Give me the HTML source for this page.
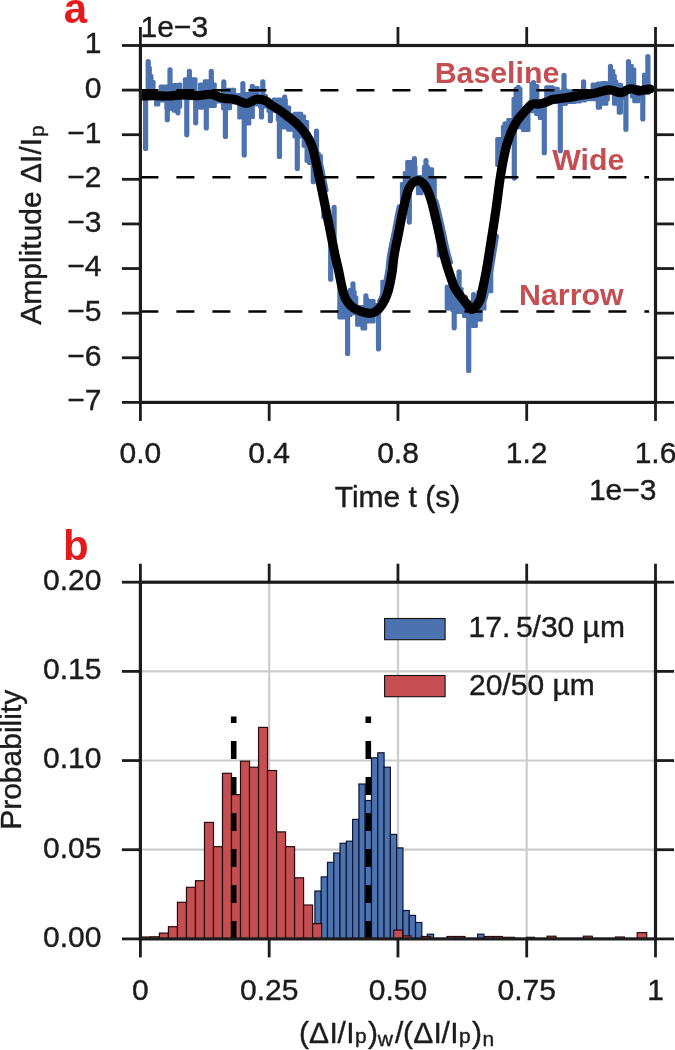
<!DOCTYPE html>
<html><head><meta charset="utf-8"><style>
html,body{margin:0;padding:0;background:#fff;width:675px;height:1050px;overflow:hidden}
svg{display:block;filter:blur(0.35px)}
</style></head><body>
<svg width="675" height="1050" viewBox="0 0 675 1050">
<rect x="0" y="0" width="675" height="1050" fill="#ffffff"/>
<defs><clipPath id="ca"><rect x="140.4" y="45.5" width="515.1" height="356.9"/></clipPath></defs>
<g clip-path="url(#ca)">
<g fill="#4C72B0">
<rect x="139.8" y="90.0" width="6.0" height="10.0" rx="1.5"/>
<rect x="147.7" y="66.0" width="4.2" height="33.0" rx="1.5"/>
<rect x="150.3" y="74.0" width="3.2" height="25.0" rx="1.5"/>
<rect x="151.9" y="80.0" width="3.7" height="19.0" rx="1.5"/>
<rect x="154.0" y="94.0" width="6.3" height="12.5" rx="1.5"/>
<rect x="158.7" y="84.6" width="7.3" height="17.8" rx="1.5"/>
<rect x="164.4" y="84.6" width="5.8" height="25.4" rx="1.5"/>
<rect x="168.6" y="84.5" width="4.8" height="26.2" rx="1.5"/>
<rect x="171.8" y="83.0" width="7.0" height="29.8" rx="1.5"/>
<rect x="177.2" y="82.5" width="5.1" height="26.1" rx="1.5"/>
<rect x="180.7" y="93.0" width="3.7" height="6.0" rx="1.5"/>
<rect x="182.8" y="77.2" width="9.5" height="23.1" rx="1.5"/>
<rect x="190.7" y="77.2" width="6.8" height="23.1" rx="1.5"/>
<rect x="195.9" y="93.0" width="3.7" height="7.0" rx="1.5"/>
<rect x="198.0" y="82.5" width="6.3" height="27.2" rx="1.5"/>
<rect x="202.7" y="79.3" width="6.8" height="29.3" rx="1.5"/>
<rect x="207.9" y="79.3" width="6.3" height="28.8" rx="1.5"/>
<rect x="212.6" y="82.5" width="4.2" height="25.6" rx="1.5"/>
<rect x="215.2" y="93.0" width="7.4" height="10.4" rx="1.5"/>
<rect x="221.0" y="87.7" width="6.3" height="22.5" rx="1.5"/>
<rect x="225.7" y="87.7" width="6.3" height="22.5" rx="1.5"/>
<rect x="230.4" y="87.7" width="5.8" height="16.8" rx="1.5"/>
<rect x="234.6" y="93.0" width="4.2" height="11.5" rx="1.5"/>
<rect x="237.2" y="93.0" width="4.7" height="26.6" rx="1.5"/>
<rect x="240.3" y="91.9" width="6.3" height="27.2" rx="1.5"/>
<rect x="245.0" y="91.9" width="6.3" height="33.5" rx="1.5"/>
<rect x="249.7" y="84.0" width="5.2" height="35.1" rx="1.5"/>
<rect x="253.3" y="86.1" width="6.3" height="20.4" rx="1.5"/>
<rect x="258.0" y="95.0" width="6.4" height="13.6" rx="1.5"/>
<rect x="262.8" y="94.0" width="5.2" height="14.6" rx="1.5"/>
<rect x="266.4" y="100.3" width="6.9" height="12.5" rx="1.5"/>
<rect x="271.7" y="97.6" width="5.7" height="15.2" rx="1.5"/>
<rect x="275.8" y="97.6" width="6.9" height="23.8" rx="1.5"/>
<rect x="281.1" y="98.6" width="6.7" height="30.8" rx="1.5"/>
<rect x="286.2" y="105.4" width="5.0" height="26.3" rx="1.5"/>
<rect x="289.6" y="113.0" width="4.5" height="18.7" rx="1.5"/>
<rect x="292.5" y="111.7" width="10.7" height="26.9" rx="1.5"/>
<rect x="301.6" y="114.6" width="4.5" height="33.1" rx="1.5"/>
<rect x="304.5" y="120.0" width="4.7" height="42.8" rx="1.5"/>
<rect x="307.6" y="140.0" width="5.9" height="24.9" rx="1.5"/>
<rect x="318.8" y="154.0" width="4.1" height="21.0" rx="1.5"/>
<rect x="321.3" y="200.0" width="4.2" height="19.0" rx="1.5"/>
<rect x="337.3" y="285.0" width="4.8" height="34.5" rx="1.5"/>
<rect x="340.5" y="294.0" width="5.3" height="25.5" rx="1.5"/>
<rect x="344.2" y="292.0" width="5.2" height="27.5" rx="1.5"/>
<rect x="347.8" y="288.0" width="4.8" height="29.0" rx="1.5"/>
<rect x="351.0" y="290.0" width="5.7" height="25.3" rx="1.5"/>
<rect x="355.1" y="295.4" width="3.2" height="31.4" rx="1.5"/>
<rect x="356.7" y="305.0" width="5.3" height="21.8" rx="1.5"/>
<rect x="360.4" y="305.0" width="6.8" height="25.4" rx="1.5"/>
<rect x="365.6" y="297.5" width="3.7" height="26.1" rx="1.5"/>
<rect x="367.7" y="299.0" width="7.9" height="24.6" rx="1.5"/>
<rect x="374.0" y="303.0" width="7.9" height="9.0" rx="1.5"/>
<rect x="380.3" y="279.7" width="4.7" height="25.3" rx="1.5"/>
<rect x="386.6" y="280.0" width="5.7" height="14.3" rx="1.5"/>
<rect x="399.9" y="182.0" width="4.4" height="23.0" rx="1.5"/>
<rect x="402.7" y="171.0" width="4.1" height="29.0" rx="1.5"/>
<rect x="405.2" y="160.0" width="7.6" height="30.0" rx="1.5"/>
<rect x="411.2" y="165.0" width="6.3" height="21.0" rx="1.5"/>
<rect x="415.9" y="175.0" width="7.6" height="20.3" rx="1.5"/>
<rect x="421.9" y="165.0" width="8.2" height="25.0" rx="1.5"/>
<rect x="428.5" y="167.3" width="5.6" height="27.7" rx="1.5"/>
<rect x="432.5" y="176.7" width="4.3" height="28.3" rx="1.5"/>
<rect x="436.7" y="245.0" width="4.7" height="12.4" rx="1.5"/>
<rect x="444.7" y="284.7" width="7.2" height="25.9" rx="1.5"/>
<rect x="450.3" y="290.0" width="5.9" height="22.0" rx="1.5"/>
<rect x="454.6" y="287.0" width="9.0" height="27.0" rx="1.5"/>
<rect x="462.0" y="295.0" width="6.0" height="23.0" rx="1.5"/>
<rect x="466.4" y="300.0" width="5.9" height="20.0" rx="1.5"/>
<rect x="470.7" y="300.0" width="7.2" height="28.0" rx="1.5"/>
<rect x="476.3" y="290.0" width="6.5" height="31.8" rx="1.5"/>
<rect x="481.2" y="282.2" width="5.3" height="28.4" rx="1.5"/>
<rect x="487.4" y="268.6" width="5.9" height="24.7" rx="1.5"/>
<rect x="495.2" y="137.0" width="7.3" height="30.0" rx="1.5"/>
<rect x="500.9" y="125.0" width="6.9" height="23.0" rx="1.5"/>
<rect x="506.2" y="118.0" width="6.9" height="22.0" rx="1.5"/>
<rect x="511.5" y="97.0" width="5.3" height="37.7" rx="1.5"/>
<rect x="513.5" y="87.0" width="9.0" height="42.3" rx="1.5"/>
<rect x="520.9" y="108.0" width="9.6" height="24.0" rx="1.5"/>
<rect x="529.4" y="82.0" width="6.4" height="31.3" rx="1.5"/>
<rect x="534.2" y="84.0" width="5.1" height="32.0" rx="1.5"/>
<rect x="537.7" y="102.0" width="7.5" height="18.0" rx="1.5"/>
<rect x="544.2" y="85.3" width="10.3" height="18.7" rx="1.5"/>
<rect x="552.9" y="86.7" width="6.9" height="17.3" rx="1.5"/>
<rect x="558.2" y="90.0" width="4.3" height="16.0" rx="1.5"/>
<rect x="560.9" y="88.0" width="6.9" height="18.0" rx="1.5"/>
<rect x="566.2" y="89.3" width="10.3" height="14.7" rx="1.5"/>
<rect x="574.9" y="93.0" width="6.9" height="10.4" rx="1.5"/>
<rect x="580.2" y="90.0" width="6.8" height="12.4" rx="1.5"/>
<rect x="585.4" y="93.0" width="6.8" height="8.3" rx="1.5"/>
<rect x="590.6" y="82.5" width="6.8" height="18.8" rx="1.5"/>
<rect x="595.8" y="81.4" width="6.3" height="28.0" rx="1.5"/>
<rect x="600.5" y="81.1" width="7.9" height="24.6" rx="1.5"/>
<rect x="606.8" y="85.0" width="3.0" height="16.5" rx="1.5"/>
<rect x="612.0" y="69.1" width="3.3" height="36.6" rx="1.5"/>
<rect x="613.7" y="74.0" width="3.1" height="31.7" rx="1.5"/>
<rect x="615.2" y="79.6" width="3.1" height="26.1" rx="1.5"/>
<rect x="616.7" y="82.7" width="6.3" height="31.9" rx="1.5"/>
<rect x="621.4" y="86.0" width="4.4" height="14.0" rx="1.5"/>
<rect x="630.0" y="63.9" width="3.8" height="34.6" rx="1.5"/>
<rect x="632.2" y="67.5" width="4.1" height="35.7" rx="1.5"/>
<rect x="634.7" y="85.0" width="5.8" height="18.2" rx="1.5"/>
<rect x="642.0" y="72.8" width="4.8" height="22.2" rx="1.5"/>
<rect x="645.2" y="80.0" width="5.1" height="15.0" rx="1.5"/>
</g>
<g stroke="#4C72B0" stroke-width="5.2" stroke-linecap="round" fill="none">
<line x1="145.6" y1="96.0" x2="145.6" y2="148.4"/>
<line x1="148.2" y1="96.0" x2="148.2" y2="61.5"/>
<line x1="167.3" y1="100.0" x2="167.3" y2="119.7"/>
<line x1="170.0" y1="95.0" x2="170.0" y2="69.9"/>
<line x1="177.9" y1="100.0" x2="177.9" y2="112.8"/>
<line x1="186.8" y1="95.0" x2="186.8" y2="134.8"/>
<line x1="189.4" y1="95.0" x2="189.4" y2="71.4"/>
<line x1="195.7" y1="95.0" x2="195.7" y2="122.8"/>
<line x1="206.3" y1="95.0" x2="206.3" y2="128.0"/>
<line x1="211.3" y1="95.0" x2="211.3" y2="71.4"/>
<line x1="223.8" y1="98.0" x2="223.8" y2="81.9"/>
<line x1="225.4" y1="98.0" x2="225.4" y2="136.4"/>
<line x1="242.9" y1="100.0" x2="242.9" y2="83.5"/>
<line x1="244.2" y1="100.0" x2="244.2" y2="154.9"/>
<line x1="261.5" y1="100.0" x2="261.5" y2="117.0"/>
<line x1="262.8" y1="100.0" x2="262.8" y2="81.9"/>
<line x1="270.4" y1="104.0" x2="270.4" y2="120.7"/>
<line x1="279.4" y1="105.0" x2="279.4" y2="156.5"/>
<line x1="284.7" y1="105.0" x2="284.7" y2="97.2"/>
<line x1="297.3" y1="120.0" x2="297.3" y2="168.5"/>
<line x1="309.3" y1="150.0" x2="309.3" y2="162.3"/>
<line x1="313.3" y1="160.0" x2="313.3" y2="181.7"/>
<line x1="316.5" y1="165.0" x2="316.5" y2="131.2"/>
<line x1="330.7" y1="232.0" x2="330.7" y2="279.2"/>
<line x1="334.1" y1="245.0" x2="334.1" y2="207.4"/>
<line x1="347.6" y1="305.0" x2="347.6" y2="353.5"/>
<line x1="353.0" y1="300.0" x2="353.0" y2="283.8"/>
<line x1="365.9" y1="310.0" x2="365.9" y2="295.9"/>
<line x1="378.5" y1="308.0" x2="378.5" y2="348.8"/>
<line x1="409.3" y1="190.0" x2="409.3" y2="222.1"/>
<line x1="414.4" y1="180.0" x2="414.4" y2="158.6"/>
<line x1="426.0" y1="182.0" x2="426.0" y2="160.6"/>
<line x1="454.2" y1="300.0" x2="454.2" y2="327.8"/>
<line x1="459.1" y1="295.0" x2="459.1" y2="271.8"/>
<line x1="468.7" y1="308.0" x2="468.7" y2="370.5"/>
<line x1="473.6" y1="305.0" x2="473.6" y2="294.7"/>
<line x1="505.0" y1="135.0" x2="505.0" y2="123.9"/>
<line x1="514.3" y1="130.0" x2="514.3" y2="178.1"/>
<line x1="518.3" y1="100.0" x2="518.3" y2="87.3"/>
<line x1="533.5" y1="100.0" x2="533.5" y2="82.6"/>
<line x1="544.3" y1="105.0" x2="544.3" y2="152.7"/>
<line x1="560.3" y1="100.0" x2="560.3" y2="150.7"/>
<line x1="564.0" y1="95.0" x2="564.0" y2="75.3"/>
<line x1="583.6" y1="95.0" x2="583.6" y2="81.9"/>
<line x1="598.5" y1="95.0" x2="598.5" y2="107.1"/>
<line x1="610.5" y1="90.0" x2="610.5" y2="66.4"/>
<line x1="619.6" y1="100.0" x2="619.6" y2="112.0"/>
<line x1="625.9" y1="95.0" x2="625.9" y2="129.3"/>
<line x1="628.5" y1="90.0" x2="628.5" y2="61.7"/>
<line x1="642.8" y1="90.0" x2="642.8" y2="118.9"/>
<line x1="647.9" y1="88.0" x2="647.9" y2="56.5"/>
</g>
<polyline points="379.6,301.1 380.0,300.3 380.4,299.6 380.7,298.8 381.1,298.0 381.4,297.2 381.8,296.4 382.1,295.5 382.4,294.6 382.7,293.7 383.0,292.7 383.3,291.8 383.6,290.8 383.9,289.8 384.1,288.8 384.4,287.7 384.7,286.7 384.9,285.6 385.2,284.6 385.4,283.5 385.6,282.4 385.9,281.4 386.1,280.3 386.3,279.2 386.5,278.1 386.7,277.0 386.9,275.9 387.1,274.7 387.3,273.6 387.4,272.4 387.6,271.2 387.8,270.0 388.0,268.8 388.1,267.6 388.2,266.4 388.4,265.2 388.5,264.0 388.6,262.7 388.7,261.5 388.9,260.1 389.0,258.8 389.2,257.4 389.4,255.9 389.7,254.3 390.0,252.6 390.3,250.9 390.7,249.1 391.0,247.2 391.4,245.3 391.8,243.3 392.3,241.3 392.7,239.3 393.1,237.3 393.5,235.3 393.9,233.3 394.3,231.4 394.7,229.5 395.0,227.6 395.4,225.6 395.8,223.7 396.1,221.8 396.5,219.9 396.8,217.9 397.2,216.0 397.6,214.1 398.0,212.3 398.4,210.4 398.8,208.6 399.2,206.8" fill="none" stroke="#4C72B0" stroke-width="5" stroke-linejoin="round" stroke-linecap="round"/>
<polyline points="436.0,201.0 436.5,202.7 437.0,204.5 437.4,206.4 437.9,208.3 438.4,210.3 438.9,212.3 439.4,214.3 439.8,216.4 440.3,218.4 440.8,220.4 441.2,222.3 441.6,224.2 442.1,226.2 442.5,228.2 442.9,230.2 443.4,232.2 443.8,234.1 444.2,236.1 444.6,238.0 445.0,239.9 445.4,241.7 445.7,243.4 446.1,245.0 446.5,246.5 446.8,248.0 447.1,249.3 447.4,250.6 447.7,251.9 448.0,253.1 448.3,254.2 448.6,255.4 448.9,256.5 449.3,257.7 449.6,258.8 449.9,260.0 450.2,261.2 450.6,262.3" fill="none" stroke="#4C72B0" stroke-width="5" stroke-linejoin="round" stroke-linecap="round"/>
<polyline points="484.6,300.0 484.9,299.1 485.2,298.1 485.5,297.0 485.8,295.9 486.1,294.8 486.3,293.6 486.6,292.4 486.8,291.2 487.0,290.0 487.2,288.9 487.5,287.8 487.7,286.7 487.9,285.7 488.1,284.6 488.4,283.6 488.6,282.7 488.8,281.7 489.0,280.7 489.2,279.7 489.4,278.8 489.5,277.8 489.7,276.9 489.9,275.9 490.1,275.0 490.3,274.1 490.4,273.3 490.6,272.5 490.7,271.7 490.9,271.0 491.0,270.2 491.2,269.4 491.3,268.5 491.5,267.6 491.7,266.5 491.9,265.3 492.1,264.0 492.3,262.6 492.6,261.0 492.9,259.4 493.1,257.7 493.4,256.0 493.7,254.1 494.0,252.2 494.3,250.2 494.7,248.1 495.0,245.9 495.3,243.6 495.7,241.3 496.1,238.8 496.5,236.2" fill="none" stroke="#4C72B0" stroke-width="5" stroke-linejoin="round" stroke-linecap="round"/>
<polyline points="296.2,127.2 297.0,128.1 297.8,129.0 298.6,129.9 299.3,130.8 300.1,131.7 300.8,132.6 301.4,133.5 302.1,134.4 302.7,135.3 303.3,136.2 303.8,137.0 304.3,137.9 304.8,138.7 305.2,139.6 305.7,140.4 306.1,141.3 306.5,142.2 306.9,143.1" fill="none" stroke="#4C72B0" stroke-width="5" stroke-linejoin="round" stroke-linecap="round"/>
<polyline points="318.4,153.8 318.7,155.0 318.9,156.2 319.2,157.5 319.5,158.7 319.8,160.0 320.1,161.3 320.4,162.5 320.7,163.8 320.9,165.1 321.2,166.4 321.5,167.7 321.8,169.0 322.1,170.5 322.4,172.0 322.7,173.5 323.0,175.2 323.4,177.0 323.8,178.9 324.2,181.0 324.7,183.1 325.1,185.4 325.6,187.7 326.1,190.1" fill="none" stroke="#4C72B0" stroke-width="5" stroke-linejoin="round" stroke-linecap="round"/>
<line x1="140.4" y1="90.2" x2="649.1" y2="90.2" stroke="#000" stroke-width="2.6" stroke-dasharray="18 18"/>
<line x1="140.4" y1="177.3" x2="649.1" y2="177.3" stroke="#000" stroke-width="2.6" stroke-dasharray="18 18"/>
<line x1="140.4" y1="311.5" x2="649.1" y2="311.5" stroke="#000" stroke-width="2.6" stroke-dasharray="18 18"/>
<path d="M141.5,96.0 C143.6,95.9 149.7,95.6 154.2,95.6 C158.7,95.6 163.7,96.1 168.4,96.0 C173.2,95.9 177.9,94.9 182.7,94.8 C187.4,94.7 192.2,95.7 196.9,95.6 C201.6,95.5 206.8,94.0 211.1,94.4 C215.4,94.8 219.1,97.4 223.0,98.2 C226.9,99.0 230.9,98.5 234.8,99.4 C238.8,100.3 243.1,103.5 246.7,103.5 C250.2,103.5 253.0,99.7 256.1,99.2 C259.2,98.8 263.1,99.8 265.6,100.8 C268.1,101.8 268.7,103.4 271.1,105.0 C273.5,106.6 277.3,108.7 280.0,110.5 C282.7,112.3 284.1,113.4 287.1,115.8 C290.1,118.2 294.5,121.5 297.8,124.7 C301.1,128.0 304.3,131.8 306.7,135.3 C309.1,138.9 310.5,141.9 312.0,146.0 C313.5,150.1 314.4,154.8 315.6,160.0 C316.8,165.2 317.7,169.6 319.2,177.0 C320.7,184.4 323.0,195.4 324.8,204.2 C326.6,213.0 328.3,221.3 330.0,229.9 C331.7,238.5 333.7,248.8 335.1,255.5 C336.5,262.2 337.3,264.6 338.5,270.0 C339.7,275.4 340.9,283.1 342.2,288.0 C343.4,292.9 344.1,296.2 346.0,299.5 C347.9,302.8 349.8,305.5 353.5,307.8 C357.2,310.1 364.7,312.8 368.5,313.3 C372.3,313.8 374.2,312.5 376.5,311.0 C378.8,309.5 380.5,307.1 382.2,304.5 C383.9,301.9 385.4,299.0 386.7,295.5 C388.0,292.0 389.1,287.8 390.0,283.5 C390.9,279.2 391.7,274.9 392.4,270.0 C393.1,265.1 393.2,260.7 394.3,254.3 C395.4,247.9 397.4,239.0 398.9,231.4 C400.4,223.8 401.7,215.8 403.4,208.6 C405.1,201.4 406.8,192.7 409.1,188.0 C411.4,183.3 414.4,181.1 417.1,180.7 C419.8,180.3 422.8,182.6 425.1,185.7 C427.4,188.8 429.0,193.3 430.9,199.4 C432.8,205.5 434.8,214.7 436.6,222.3 C438.4,229.9 440.1,238.7 441.5,245.0 C442.9,251.3 444.0,255.2 445.3,260.0 C446.6,264.8 448.0,269.1 449.5,273.5 C451.0,277.9 452.6,283.3 454.2,286.7 C455.8,290.1 457.3,291.8 458.9,294.0 C460.5,296.2 462.2,298.2 463.6,300.0 C465.0,301.8 466.2,303.4 467.5,305.0 C468.8,306.6 469.9,308.9 471.1,309.3 C472.4,309.7 473.5,309.1 475.0,307.5 C476.5,305.9 478.6,303.5 480.0,300.0 C481.4,296.5 482.2,290.9 483.1,286.7 C484.0,282.5 484.8,278.8 485.5,275.0 C486.2,271.2 486.6,269.6 487.5,264.0 C488.4,258.4 489.6,250.8 491.1,241.3 C492.6,231.8 494.8,217.8 496.3,207.1 C497.8,196.4 498.8,186.9 500.3,177.4 C501.8,167.9 503.9,156.6 505.4,150.0 C506.8,143.4 507.9,141.3 509.0,138.0 C510.1,134.7 510.5,133.4 512.0,130.3 C513.5,127.2 515.7,122.8 517.9,119.6 C520.1,116.4 522.6,113.9 525.0,111.3 C527.4,108.7 529.7,105.4 532.1,104.2 C534.5,103.0 536.9,104.3 539.3,104.0 C541.7,103.7 544.0,103.0 546.4,102.2 C548.8,101.4 550.2,100.0 553.5,99.3 C556.8,98.6 561.9,98.5 566.4,97.8 C570.9,97.1 575.9,96.1 580.6,95.3 C585.3,94.5 590.1,94.1 594.8,93.2 C599.5,92.3 604.6,89.9 609.0,89.8 C613.4,89.7 617.5,92.8 621.0,92.6 C624.5,92.4 627.0,89.1 630.0,88.8 C633.0,88.5 636.5,90.8 639.0,90.9 C641.5,91.0 643.1,89.9 645.0,89.6 C646.9,89.3 649.3,89.1 650.2,89.0" fill="none" stroke="#000" stroke-width="9.2" stroke-linejoin="round" stroke-linecap="round"/>
</g>
<g font-family='"Liberation Sans", sans-serif' font-weight="bold" font-size="30.3" fill="#C44E52">
<text x="559.3" y="83.4" text-anchor="end">Baseline</text>
<text x="624.4" y="170.1" text-anchor="end">Wide</text>
<text x="623.5" y="305.2" text-anchor="end">Narrow</text>
</g>
<rect x="140.4" y="45.5" width="515.1" height="356.9" fill="none" stroke="#1c1c1c" stroke-width="3.2"/>
<line x1="121.9" y1="45.489999999999995" x2="140.4" y2="45.489999999999995" stroke="#1c1c1c" stroke-width="2.8"/>
<line x1="655.5" y1="45.489999999999995" x2="674.0" y2="45.489999999999995" stroke="#1c1c1c" stroke-width="2.8"/>
<line x1="121.9" y1="90.1" x2="140.4" y2="90.1" stroke="#1c1c1c" stroke-width="2.8"/>
<line x1="655.5" y1="90.1" x2="674.0" y2="90.1" stroke="#1c1c1c" stroke-width="2.8"/>
<line x1="121.9" y1="134.70999999999998" x2="140.4" y2="134.70999999999998" stroke="#1c1c1c" stroke-width="2.8"/>
<line x1="655.5" y1="134.70999999999998" x2="674.0" y2="134.70999999999998" stroke="#1c1c1c" stroke-width="2.8"/>
<line x1="121.9" y1="179.32" x2="140.4" y2="179.32" stroke="#1c1c1c" stroke-width="2.8"/>
<line x1="655.5" y1="179.32" x2="674.0" y2="179.32" stroke="#1c1c1c" stroke-width="2.8"/>
<line x1="121.9" y1="223.92999999999998" x2="140.4" y2="223.92999999999998" stroke="#1c1c1c" stroke-width="2.8"/>
<line x1="655.5" y1="223.92999999999998" x2="674.0" y2="223.92999999999998" stroke="#1c1c1c" stroke-width="2.8"/>
<line x1="121.9" y1="268.53999999999996" x2="140.4" y2="268.53999999999996" stroke="#1c1c1c" stroke-width="2.8"/>
<line x1="655.5" y1="268.53999999999996" x2="674.0" y2="268.53999999999996" stroke="#1c1c1c" stroke-width="2.8"/>
<line x1="121.9" y1="313.15" x2="140.4" y2="313.15" stroke="#1c1c1c" stroke-width="2.8"/>
<line x1="655.5" y1="313.15" x2="674.0" y2="313.15" stroke="#1c1c1c" stroke-width="2.8"/>
<line x1="121.9" y1="357.76" x2="140.4" y2="357.76" stroke="#1c1c1c" stroke-width="2.8"/>
<line x1="655.5" y1="357.76" x2="674.0" y2="357.76" stroke="#1c1c1c" stroke-width="2.8"/>
<line x1="121.9" y1="402.37" x2="140.4" y2="402.37" stroke="#1c1c1c" stroke-width="2.8"/>
<line x1="655.5" y1="402.37" x2="674.0" y2="402.37" stroke="#1c1c1c" stroke-width="2.8"/>
<line x1="140.4" y1="402.4" x2="140.4" y2="420.9" stroke="#1c1c1c" stroke-width="2.8"/>
<line x1="140.4" y1="27.0" x2="140.4" y2="45.5" stroke="#1c1c1c" stroke-width="2.8"/>
<line x1="269.175" y1="402.4" x2="269.175" y2="420.9" stroke="#1c1c1c" stroke-width="2.8"/>
<line x1="269.175" y1="27.0" x2="269.175" y2="45.5" stroke="#1c1c1c" stroke-width="2.8"/>
<line x1="397.95000000000005" y1="402.4" x2="397.95000000000005" y2="420.9" stroke="#1c1c1c" stroke-width="2.8"/>
<line x1="397.95000000000005" y1="27.0" x2="397.95000000000005" y2="45.5" stroke="#1c1c1c" stroke-width="2.8"/>
<line x1="526.7249999999999" y1="402.4" x2="526.7249999999999" y2="420.9" stroke="#1c1c1c" stroke-width="2.8"/>
<line x1="526.7249999999999" y1="27.0" x2="526.7249999999999" y2="45.5" stroke="#1c1c1c" stroke-width="2.8"/>
<line x1="655.5" y1="402.4" x2="655.5" y2="420.9" stroke="#1c1c1c" stroke-width="2.8"/>
<line x1="655.5" y1="27.0" x2="655.5" y2="45.5" stroke="#1c1c1c" stroke-width="2.8"/>
<g font-family='"Liberation Sans", sans-serif' font-size="30" fill="#1c1c1c" stroke="#1c1c1c" stroke-width="0.4">
<text x="101.4" y="53.4" text-anchor="end">1</text>
<text x="101.4" y="98.0" text-anchor="end">0</text>
<text x="101.4" y="142.6" text-anchor="end">−1</text>
<text x="101.4" y="187.2" text-anchor="end">−2</text>
<text x="101.4" y="231.8" text-anchor="end">−3</text>
<text x="101.4" y="276.4" text-anchor="end">−4</text>
<text x="101.4" y="321.0" text-anchor="end">−5</text>
<text x="101.4" y="365.7" text-anchor="end">−6</text>
<text x="101.4" y="410.3" text-anchor="end">−7</text>
<text x="140.4" y="463" text-anchor="middle">0.0</text>
<text x="269.2" y="463" text-anchor="middle">0.4</text>
<text x="398.0" y="463" text-anchor="middle">0.8</text>
<text x="526.7" y="463" text-anchor="middle">1.2</text>
<text x="655.5" y="463" text-anchor="middle">1.6</text>
<text x="656.5" y="500" text-anchor="end">1e−3</text>
<text x="140.5" y="37" text-anchor="start">1e−3</text>
<text x="397.5" y="506.7" text-anchor="middle">Time t (s)</text>
<text transform="translate(41,0) rotate(-90)" x="-324.7" y="0">Amplitude ΔI/I<tspan font-size="21" dx="0.8" dy="3.4">p</tspan></text>
</g>
<g font-family='"Liberation Sans", sans-serif' font-weight="bold" font-size="42" fill="#E41A1C">
<text x="63.7" y="22.7">a</text>
<text x="63" y="559.5">b</text>
</g>
<line x1="269.2" y1="582.2" x2="269.2" y2="938.9" stroke="#cccccc" stroke-width="2.2"/>
<line x1="398.0" y1="582.2" x2="398.0" y2="938.9" stroke="#cccccc" stroke-width="2.2"/>
<line x1="526.7" y1="582.2" x2="526.7" y2="938.9" stroke="#cccccc" stroke-width="2.2"/>
<line x1="140.4" y1="849.7" x2="655.5" y2="849.7" stroke="#cccccc" stroke-width="2.2"/>
<line x1="140.4" y1="760.5" x2="655.5" y2="760.5" stroke="#cccccc" stroke-width="2.2"/>
<line x1="140.4" y1="671.4" x2="655.5" y2="671.4" stroke="#cccccc" stroke-width="2.2"/>
<rect x="314.90" y="891.0" width="6.29" height="47.9" fill="#4C72B0" stroke="#0b1633" stroke-width="1.2"/>
<rect x="321.19" y="876.9" width="6.29" height="62.0" fill="#4C72B0" stroke="#0b1633" stroke-width="1.2"/>
<rect x="327.48" y="862.4" width="6.29" height="76.5" fill="#4C72B0" stroke="#0b1633" stroke-width="1.2"/>
<rect x="333.77" y="853.0" width="6.29" height="85.9" fill="#4C72B0" stroke="#0b1633" stroke-width="1.2"/>
<rect x="340.06" y="843.3" width="6.29" height="95.6" fill="#4C72B0" stroke="#0b1633" stroke-width="1.2"/>
<rect x="346.35" y="841.2" width="6.29" height="97.7" fill="#4C72B0" stroke="#0b1633" stroke-width="1.2"/>
<rect x="352.64" y="819.4" width="6.29" height="119.5" fill="#4C72B0" stroke="#0b1633" stroke-width="1.2"/>
<rect x="358.93" y="784.0" width="6.29" height="154.9" fill="#4C72B0" stroke="#0b1633" stroke-width="1.2"/>
<rect x="365.22" y="800.5" width="6.29" height="138.4" fill="#4C72B0" stroke="#0b1633" stroke-width="1.2"/>
<rect x="371.51" y="757.8" width="6.29" height="181.1" fill="#4C72B0" stroke="#0b1633" stroke-width="1.2"/>
<rect x="377.80" y="752.8" width="6.29" height="186.1" fill="#4C72B0" stroke="#0b1633" stroke-width="1.2"/>
<rect x="384.09" y="767.2" width="6.29" height="171.7" fill="#4C72B0" stroke="#0b1633" stroke-width="1.2"/>
<rect x="390.38" y="834.4" width="6.29" height="104.5" fill="#4C72B0" stroke="#0b1633" stroke-width="1.2"/>
<rect x="396.67" y="847.9" width="6.29" height="91.0" fill="#4C72B0" stroke="#0b1633" stroke-width="1.2"/>
<rect x="402.96" y="910.5" width="6.29" height="28.4" fill="#4C72B0" stroke="#0b1633" stroke-width="1.2"/>
<rect x="409.25" y="915.4" width="6.29" height="23.5" fill="#4C72B0" stroke="#0b1633" stroke-width="1.2"/>
<rect x="415.54" y="922.5" width="6.29" height="16.4" fill="#4C72B0" stroke="#0b1633" stroke-width="1.2"/>
<rect x="427.30" y="934.2" width="6.30" height="4.7" fill="#4C72B0" stroke="#0b1633" stroke-width="1.2"/>
<rect x="477.60" y="934.2" width="6.30" height="4.7" fill="#4C72B0" stroke="#0b1633" stroke-width="1.2"/>
<rect x="141.40" y="937.0" width="9.01" height="1.9" fill="#C44E52" stroke="#2a0b0d" stroke-width="1.2"/>
<rect x="150.41" y="936.8" width="9.01" height="2.1" fill="#C44E52" stroke="#2a0b0d" stroke-width="1.2"/>
<rect x="159.42" y="933.1" width="9.01" height="5.8" fill="#C44E52" stroke="#2a0b0d" stroke-width="1.2"/>
<rect x="168.43" y="926.7" width="9.01" height="12.2" fill="#C44E52" stroke="#2a0b0d" stroke-width="1.2"/>
<rect x="177.44" y="902.3" width="9.01" height="36.6" fill="#C44E52" stroke="#2a0b0d" stroke-width="1.2"/>
<rect x="186.45" y="887.3" width="9.01" height="51.6" fill="#C44E52" stroke="#2a0b0d" stroke-width="1.2"/>
<rect x="195.46" y="880.7" width="9.01" height="58.2" fill="#C44E52" stroke="#2a0b0d" stroke-width="1.2"/>
<rect x="204.47" y="822.4" width="9.01" height="116.5" fill="#C44E52" stroke="#2a0b0d" stroke-width="1.2"/>
<rect x="213.48" y="846.7" width="9.01" height="92.2" fill="#C44E52" stroke="#2a0b0d" stroke-width="1.2"/>
<rect x="222.49" y="773.3" width="9.01" height="165.6" fill="#C44E52" stroke="#2a0b0d" stroke-width="1.2"/>
<rect x="231.50" y="794.6" width="9.01" height="144.3" fill="#C44E52" stroke="#2a0b0d" stroke-width="1.2"/>
<rect x="240.51" y="761.2" width="9.01" height="177.7" fill="#C44E52" stroke="#2a0b0d" stroke-width="1.2"/>
<rect x="249.52" y="767.2" width="9.01" height="171.7" fill="#C44E52" stroke="#2a0b0d" stroke-width="1.2"/>
<rect x="258.53" y="727.4" width="9.01" height="211.5" fill="#C44E52" stroke="#2a0b0d" stroke-width="1.2"/>
<rect x="267.54" y="770.5" width="9.01" height="168.4" fill="#C44E52" stroke="#2a0b0d" stroke-width="1.2"/>
<rect x="276.55" y="831.9" width="9.01" height="107.0" fill="#C44E52" stroke="#2a0b0d" stroke-width="1.2"/>
<rect x="285.56" y="846.7" width="9.01" height="92.2" fill="#C44E52" stroke="#2a0b0d" stroke-width="1.2"/>
<rect x="294.57" y="877.8" width="9.01" height="61.1" fill="#C44E52" stroke="#2a0b0d" stroke-width="1.2"/>
<rect x="303.58" y="905.0" width="9.01" height="33.9" fill="#C44E52" stroke="#2a0b0d" stroke-width="1.2"/>
<rect x="312.59" y="923.7" width="9.01" height="15.2" fill="#C44E52" stroke="#2a0b0d" stroke-width="1.2"/>
<rect x="393.70" y="930.1" width="9.00" height="8.8" fill="#C44E52" stroke="#2a0b0d" stroke-width="1.2"/>
<rect x="402.90" y="935.9" width="8.00" height="3.0" fill="#C44E52" stroke="#2a0b0d" stroke-width="1.2"/>
<rect x="421.50" y="936.5" width="9.00" height="2.4" fill="#C44E52" stroke="#2a0b0d" stroke-width="1.2"/>
<rect x="447.00" y="936.5" width="9.00" height="2.4" fill="#C44E52" stroke="#2a0b0d" stroke-width="1.2"/>
<rect x="456.00" y="936.5" width="9.00" height="2.4" fill="#C44E52" stroke="#2a0b0d" stroke-width="1.2"/>
<rect x="484.40" y="936.5" width="9.00" height="2.4" fill="#C44E52" stroke="#2a0b0d" stroke-width="1.2"/>
<rect x="493.40" y="936.5" width="9.00" height="2.4" fill="#C44E52" stroke="#2a0b0d" stroke-width="1.2"/>
<rect x="502.40" y="937.3" width="12.00" height="1.6" fill="#C44E52" stroke="#2a0b0d" stroke-width="1.2"/>
<rect x="526.50" y="937.3" width="8.00" height="1.6" fill="#C44E52" stroke="#2a0b0d" stroke-width="1.2"/>
<rect x="547.00" y="936.2" width="9.00" height="2.7" fill="#C44E52" stroke="#2a0b0d" stroke-width="1.2"/>
<rect x="583.30" y="936.2" width="9.00" height="2.7" fill="#C44E52" stroke="#2a0b0d" stroke-width="1.2"/>
<rect x="615.40" y="937.0" width="9.00" height="1.9" fill="#C44E52" stroke="#2a0b0d" stroke-width="1.2"/>
<rect x="637.20" y="932.6" width="9.50" height="6.3" fill="#C44E52" stroke="#2a0b0d" stroke-width="1.2"/>
<line x1="233.7" y1="938.9" x2="233.7" y2="716.6" stroke="#000" stroke-width="5.6" stroke-dasharray="18 18"/>
<line x1="368.3" y1="938.9" x2="368.3" y2="716.6" stroke="#000" stroke-width="5.6" stroke-dasharray="18 18"/>
<rect x="140.4" y="582.2" width="515.1" height="356.69999999999993" fill="none" stroke="#1c1c1c" stroke-width="3.2"/>
<line x1="121.9" y1="938.9" x2="140.4" y2="938.9" stroke="#1c1c1c" stroke-width="2.8"/>
<line x1="655.5" y1="938.9" x2="674.0" y2="938.9" stroke="#1c1c1c" stroke-width="2.8"/>
<line x1="121.9" y1="849.725" x2="140.4" y2="849.725" stroke="#1c1c1c" stroke-width="2.8"/>
<line x1="655.5" y1="849.725" x2="674.0" y2="849.725" stroke="#1c1c1c" stroke-width="2.8"/>
<line x1="121.9" y1="760.55" x2="140.4" y2="760.55" stroke="#1c1c1c" stroke-width="2.8"/>
<line x1="655.5" y1="760.55" x2="674.0" y2="760.55" stroke="#1c1c1c" stroke-width="2.8"/>
<line x1="121.9" y1="671.375" x2="140.4" y2="671.375" stroke="#1c1c1c" stroke-width="2.8"/>
<line x1="655.5" y1="671.375" x2="674.0" y2="671.375" stroke="#1c1c1c" stroke-width="2.8"/>
<line x1="121.9" y1="582.2" x2="140.4" y2="582.2" stroke="#1c1c1c" stroke-width="2.8"/>
<line x1="655.5" y1="582.2" x2="674.0" y2="582.2" stroke="#1c1c1c" stroke-width="2.8"/>
<line x1="140.4" y1="938.9" x2="140.4" y2="957.4" stroke="#1c1c1c" stroke-width="2.8"/>
<line x1="140.4" y1="563.7" x2="140.4" y2="582.2" stroke="#1c1c1c" stroke-width="2.8"/>
<line x1="269.175" y1="938.9" x2="269.175" y2="957.4" stroke="#1c1c1c" stroke-width="2.8"/>
<line x1="269.175" y1="563.7" x2="269.175" y2="582.2" stroke="#1c1c1c" stroke-width="2.8"/>
<line x1="397.95000000000005" y1="938.9" x2="397.95000000000005" y2="957.4" stroke="#1c1c1c" stroke-width="2.8"/>
<line x1="397.95000000000005" y1="563.7" x2="397.95000000000005" y2="582.2" stroke="#1c1c1c" stroke-width="2.8"/>
<line x1="526.725" y1="938.9" x2="526.725" y2="957.4" stroke="#1c1c1c" stroke-width="2.8"/>
<line x1="526.725" y1="563.7" x2="526.725" y2="582.2" stroke="#1c1c1c" stroke-width="2.8"/>
<line x1="655.5" y1="938.9" x2="655.5" y2="957.4" stroke="#1c1c1c" stroke-width="2.8"/>
<line x1="655.5" y1="563.7" x2="655.5" y2="582.2" stroke="#1c1c1c" stroke-width="2.8"/>
<rect x="384.6" y="618.5" width="60.5" height="21.2" fill="#4C72B0" stroke="#111" stroke-width="1.1"/>
<rect x="384.6" y="675.5" width="60.5" height="21.2" fill="#C44E52" stroke="#111" stroke-width="1.1"/>
<g font-family='"Liberation Sans", sans-serif' font-size="30" fill="#1c1c1c" stroke="#1c1c1c" stroke-width="0.4">
<text x="468.6" y="637.4">17.</text>
<text x="515.9" y="637.4">5/30 µm</text>
<text x="469" y="694.6">20/50 µm</text>
<text x="101.4" y="946.8" text-anchor="end">0.00</text>
<text x="101.4" y="857.6" text-anchor="end">0.05</text>
<text x="101.4" y="768.4" text-anchor="end">0.10</text>
<text x="101.4" y="679.3" text-anchor="end">0.15</text>
<text x="101.4" y="590.1" text-anchor="end">0.20</text>
<text x="140.4" y="1000" text-anchor="middle">0</text>
<text x="269.2" y="1000" text-anchor="middle">0.25</text>
<text x="398.0" y="1000" text-anchor="middle">0.50</text>
<text x="526.7" y="1000" text-anchor="middle">0.75</text>
<text x="655.5" y="1000" text-anchor="middle">1</text>
<text transform="translate(21.4,759.8) rotate(-90)" text-anchor="middle">Probability</text>
<text x="298.9" y="1042.7">(</text>
<text x="309.1" y="1042.7">Δ</text>
<text x="329.5" y="1042.7">I</text>
<text x="337.6" y="1042.7">/</text>
<text x="346.2" y="1042.7">I</text>
<text x="355.1" y="1043.4" font-size="21">p</text>
<text x="368.1" y="1042.7">)</text>
<text x="377.8" y="1045.6" font-size="21">w</text>
<text x="395.1" y="1042.7">/</text>
<text x="402.9" y="1042.7">(</text>
<text x="413.2" y="1042.7">Δ</text>
<text x="433.5" y="1042.7">I</text>
<text x="441.6" y="1042.7">/</text>
<text x="450.2" y="1042.7">I</text>
<text x="459.1" y="1043.4" font-size="21">p</text>
<text x="472.0" y="1042.7">)</text>
<text x="482.6" y="1045.6" font-size="21">n</text>
</g>
</svg>
</body></html>
